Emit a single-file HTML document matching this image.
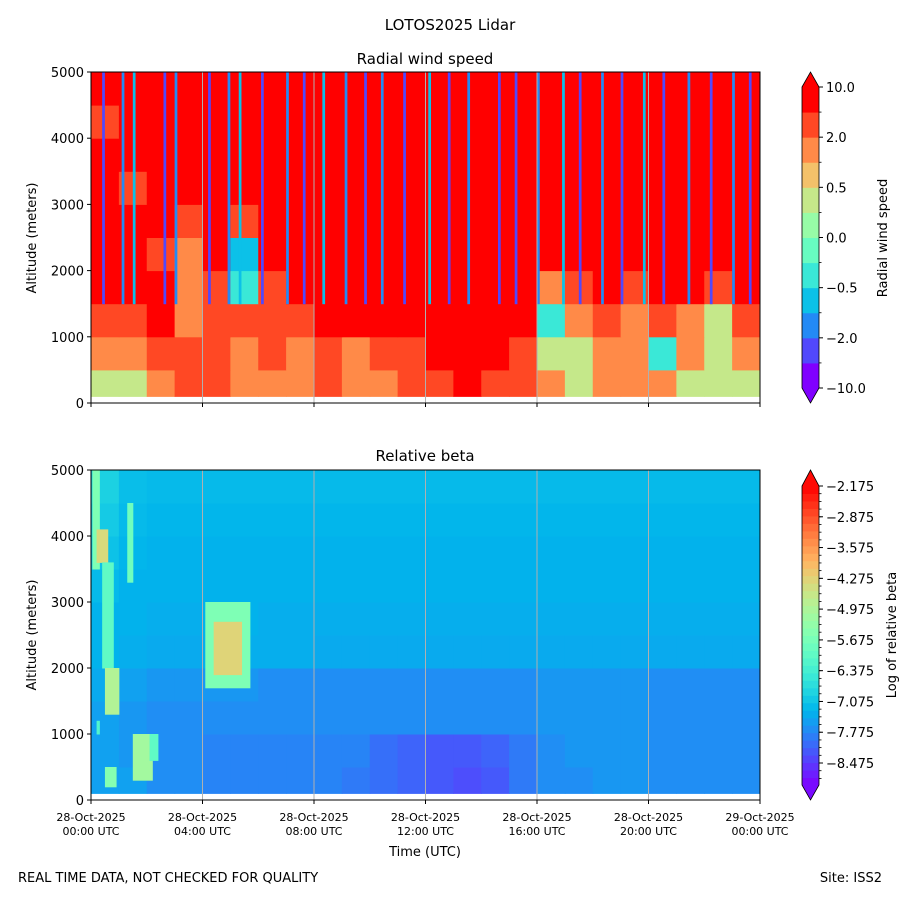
<!DOCTYPE html>
<html><head><meta charset="utf-8"><style>
body{margin:0;background:#fff;}
svg{display:block;font-family:"DejaVu Sans","Liberation Sans",sans-serif;}
</style></head><body>
<svg id="chart" width="900" height="900" viewBox="0 0 900 900">
<rect width="900" height="900" fill="#fff"/>
<text x="450" y="30" font-size="15" text-anchor="middle">LOTOS2025 Lidar</text>
<text x="425" y="64" font-size="15" text-anchor="middle">Radial wind speed</text>
<text x="425" y="461" font-size="15" text-anchor="middle">Relative beta</text>
<g id="topG"></g>
<g id="botG"></g>
<g id="axesG"></g>
<text x="36" y="238" font-size="13" text-anchor="middle" transform="rotate(-90 36 238)">Altitude (meters)</text>
<text x="36" y="635" font-size="13" text-anchor="middle" transform="rotate(-90 36 635)">Altitude (meters)</text>
<text x="425" y="856" font-size="13" text-anchor="middle">Time (UTC)</text>
<text x="18" y="882" font-size="13">REAL TIME DATA, NOT CHECKED FOR QUALITY</text>
<text x="882" y="882" font-size="13" text-anchor="end">Site: ISS2</text>
<text x="887" y="238" font-size="13" text-anchor="middle" transform="rotate(-90 887 238)">Radial wind speed</text>
<text x="896" y="635" font-size="13" text-anchor="middle" transform="rotate(-90 896 635)">Log of relative beta</text>
</svg>
<script>
const hours = [0,1,2,3,4,5,6,7,8,9,10,11,12,13,14,15,16,17,18,19,20,21,22,23];
const altRows = [0,500,1000,1500,2000,2500,3000,3500,4000,4500];
const windLevels = [-10,-5,-2,-1,-0.5,-0.25,0,0.25,0.5,1,2,5,10];
const windTickLabels = ["10.0","2.0","0.5","0.0","\u22120.5","\u22122.0","\u221210.0"];
const windTickValues = [10,2,0.5,0,-0.5,-2,-10];
const windGrid = [
 [0.3,0.3,1,3,3,1,1,1,3,1,1,3,3,5,3,3,1,0.3,1,1,1,0.3,0.3,0.3],
 [1,1,3,3,3,1,3,1,3,1,3,3,5,5,5,3,0.3,0.3,1,1,-0.3,1,0.3,1],
 [3,3,5,1,3,3,3,3,5,5,5,5,5,5,5,5,-0.3,1,3,1,3,1,0.3,3],
 [5,5,5,1,3,-0.3,3,5,5,5,5,5,5,5,5,5,1,3,5,3,5,5,3,5],
 [5,5,3,1,5,-0.7,5,5,5,5,5,5,5,5,5,5,5,5,5,5,5,5,5,5],
 [5,5,5,3,5,3,5,5,5,5,5,5,5,5,5,5,5,5,5,5,5,5,5,5],
 [5,3,5,5,5,5,5,5,5,5,5,5,5,5,5,5,5,5,5,5,5,5,5,5],
 [5,5,5,5,5,5,5,5,5,5,5,5,5,5,5,5,5,5,5,5,5,5,5,5],
 [3,5,5,5,5,5,5,5,5,5,5,5,5,5,5,5,5,5,5,5,5,5,5,5],
 [5,5,5,5,5,5,5,5,5,5,5,5,5,5,5,5,5,5,5,5,5,5,5,5]
];
const stripeHours = [0.4,1.1,1.5,2.6,3.0,4.2,4.9,5.3,6.1,7.0,7.6,8.3,9.1,9.8,10.4,11.2,12.1,12.8,13.5,14.6,15.2,16.0,16.9,17.5,18.3,19.0,19.8,20.5,21.4,22.2,23.0,23.6];
const stripeValues = [-5,-1.5,-0.7,-5,-1.5,-5,-1.5,-0.7,-5,-1.5,-5,-0.7,-1.5,-5,-1.5,-5,-0.7,-5,-1.5,-5,-5,-1.5,-0.7,-5,-1.5,-5,-0.7,-5,-1.5,-5,-1.5,-5];
const betaGrid = [
 [-7.5,-7.5,-7.7,-7.7,-7.8,-7.8,-7.8,-7.8,-7.8,-7.9,-8.0,-8.1,-8.2,-8.3,-8.2,-7.9,-7.7,-7.7,-7.6,-7.6,-7.7,-7.7,-7.7,-7.7],
 [-7.5,-7.6,-7.7,-7.7,-7.8,-7.8,-7.8,-7.8,-7.8,-7.8,-8.0,-8.1,-8.2,-8.2,-8.1,-7.9,-7.7,-7.6,-7.6,-7.6,-7.7,-7.7,-7.7,-7.7],
 [-7.5,-7.6,-7.7,-7.7,-7.7,-7.7,-7.7,-7.7,-7.7,-7.7,-7.7,-7.7,-7.7,-7.7,-7.7,-7.7,-7.6,-7.6,-7.6,-7.6,-7.7,-7.7,-7.7,-7.7],
 [-7.4,-7.5,-7.6,-7.6,-7.6,-7.6,-7.7,-7.7,-7.7,-7.7,-7.7,-7.7,-7.7,-7.7,-7.7,-7.7,-7.6,-7.6,-7.6,-7.6,-7.7,-7.7,-7.7,-7.7],
 [-7.3,-7.35,-7.4,-7.4,-7.35,-7.35,-7.35,-7.35,-7.4,-7.4,-7.4,-7.4,-7.4,-7.4,-7.4,-7.4,-7.4,-7.4,-7.4,-7.4,-7.4,-7.4,-7.4,-7.4],
 [-7.3,-7.3,-7.35,-7.35,-7.3,-7.3,-7.35,-7.35,-7.35,-7.35,-7.35,-7.35,-7.35,-7.35,-7.35,-7.35,-7.35,-7.35,-7.35,-7.35,-7.35,-7.35,-7.35,-7.35],
 [-7.2,-7.3,-7.3,-7.3,-7.3,-7.3,-7.3,-7.3,-7.3,-7.3,-7.3,-7.3,-7.3,-7.3,-7.3,-7.3,-7.3,-7.3,-7.3,-7.3,-7.3,-7.3,-7.3,-7.3],
 [-7.1,-7.25,-7.3,-7.3,-7.3,-7.3,-7.3,-7.3,-7.3,-7.3,-7.3,-7.3,-7.3,-7.3,-7.3,-7.3,-7.3,-7.3,-7.3,-7.3,-7.3,-7.3,-7.3,-7.3],
 [-7.0,-7.2,-7.25,-7.25,-7.25,-7.25,-7.25,-7.25,-7.25,-7.25,-7.25,-7.25,-7.25,-7.25,-7.25,-7.25,-7.25,-7.25,-7.25,-7.25,-7.25,-7.25,-7.25,-7.25],
 [-6.9,-7.15,-7.2,-7.2,-7.2,-7.2,-7.2,-7.2,-7.2,-7.2,-7.2,-7.2,-7.2,-7.2,-7.2,-7.2,-7.2,-7.2,-7.2,-7.2,-7.2,-7.2,-7.2,-7.2]
];
// features: [t0, t1, z0, z1, value]
const betaPlumes = [
 [0.05,0.3,3500,5000,-5.6],[0.2,0.6,3600,4100,-4.4],[0.4,0.8,2000,3600,-6.0],
 [0.5,1.0,1300,2000,-4.9],[1.3,1.5,3300,4500,-5.8],[1.5,2.2,300,1000,-5.1],
 [0.5,0.9,200,500,-5.5],[0.2,0.3,1000,1200,-6.2],[2.1,2.4,600,1000,-6.0],
 [4.1,5.7,1700,3000,-5.6],[4.4,5.4,1900,2700,-4.3]
];
const betaTickLabels = ["\u22122.175","\u22122.875","\u22123.575","\u22124.275","\u22124.975","\u22125.675","\u22126.375","\u22127.075","\u22127.775","\u22128.475"];
const betaTickValues = [-2.175,-2.875,-3.575,-4.275,-4.975,-5.675,-6.375,-7.075,-7.775,-8.475];
const altTicks = [0,1000,2000,3000,4000,5000];
const timeTicks = [0,4,8,12,16,20,24];
const timeTickLabels = [["28-Oct-2025","00:00 UTC"],["28-Oct-2025","04:00 UTC"],["28-Oct-2025","08:00 UTC"],["28-Oct-2025","12:00 UTC"],["28-Oct-2025","16:00 UTC"],["28-Oct-2025","20:00 UTC"],["29-Oct-2025","00:00 UTC"]];

const NS="http://www.w3.org/2000/svg";
const X0=91,X1=760;
const xs=h=>X0+(h/24)*(X1-X0);
const P={top:{y0:403,y1:72},bot:{y0:800,y1:470}};
const ys=(p,z)=>P[p].y0-(z/5000)*(P[p].y0-P[p].y1);
function rainbow(x){x=Math.max(0,Math.min(1,x));
 const r=Math.min(1,Math.abs(2*x-0.5)),g=Math.sin(Math.PI*x),b=Math.cos(Math.PI*x/2);
 return `rgb(${Math.round(r*255)},${Math.round(g*255)},${Math.round(b*255)})`;}
function windColor(v){let i=0;while(i<11&&v>=windLevels[i+1])i++;return rainbow(i/11);}
const BMIN=-8.975,BMAX=-2.175;
function betaColor(v){return rainbow((v-BMIN)/(BMAX-BMIN));}
function el(tag,attrs,parent){const e=document.createElementNS(NS,tag);for(const k in attrs)e.setAttribute(k,attrs[k]);parent.appendChild(e);return e;}
const topG=document.getElementById('topG'),botG=document.getElementById('botG'),axesG=document.getElementById('axesG');
function cellRect(g,p,t0,t1,z0,z1,fill){z0=Math.max(z0,100);
 return el('rect',{x:xs(t0),y:ys(p,z1),width:xs(t1)-xs(t0)+0.5,height:ys(p,z0)-ys(p,z1)+0.5,fill:fill},g);}
windGrid.forEach((row,ri)=>row.forEach((v,ci)=>{
 const r=cellRect(topG,'top',hours[ci],hours[ci]+1,altRows[ri],altRows[ri]+500,windColor(v));
 
 
}));
stripeHours.forEach((h,i)=>{
 const r=cellRect(topG,'top',h,h+0.08,1500,5000,windColor(stripeValues[i]));
 
 
});
betaGrid.forEach((row,ri)=>row.forEach((v,ci)=>{
 const r=cellRect(botG,'bot',hours[ci],hours[ci]+1,altRows[ri],altRows[ri]+500,betaColor(v));
 
 
}));
betaPlumes.forEach(f=>{
 const r=cellRect(botG,'bot',f[0],f[1],f[2],f[3],betaColor(f[4]));
 
 
});
['top','bot'].forEach(p=>{
 const g=p==='top'?topG:botG;
 timeTicks.slice(1,-1).forEach(h=>{const l=el('line',{x1:xs(h),x2:xs(h),y1:P[p].y1,y2:P[p].y0,stroke:'#b0b0b0','stroke-width':1},g);
  
  });
 const fr=el('rect',{x:X0,y:P[p].y1,width:X1-X0,height:P[p].y0-P[p].y1,fill:'none',stroke:'#000','stroke-width':1},axesG);
 
 
 altTicks.forEach(z=>{const y=ys(p,z);
  el('line',{x1:X0-4,x2:X0,y1:y,y2:y,stroke:'#000'},axesG);
  const t=el('text',{x:X0-7,y:y+5,'font-size':13,'text-anchor':'end'},axesG);t.textContent=z;
  
  });
 timeTicks.forEach((h,i)=>{const x=xs(h);
  el('line',{x1:x,x2:x,y1:P[p].y0,y2:P[p].y0+4,stroke:'#000'},axesG);
  if(p==='bot'){timeTickLabels[i].forEach((s,j)=>{const t=el('text',{x:x,y:821+j*14,'font-size':11,'text-anchor':'middle'},axesG);t.textContent=s;
   
   });}
 });
});
const CX=802,CW=17;
function colorbar(boxTop,boxBot,tipTop,tipBot,n,colorFn,tickVals,tickLabs,valToY,name,minor){
 const g=el('g',{},axesG);
 
 
 const h=(boxBot-boxTop)/n;
 for(let i=0;i<n;i++)el('rect',{x:CX,y:boxBot-(i+1)*h,width:CW,height:h+0.5,fill:colorFn(i,n)},g);
 el('polygon',{points:`${CX},${boxTop} ${CX+CW/2},${tipTop} ${CX+CW},${boxTop}`,fill:colorFn(n-1,n)},g);
 el('polygon',{points:`${CX},${boxBot} ${CX+CW/2},${tipBot} ${CX+CW},${boxBot}`,fill:colorFn(0,n)},g);
 el('polygon',{points:`${CX},${boxTop} ${CX+CW/2},${tipTop} ${CX+CW},${boxTop} ${CX+CW},${boxBot} ${CX+CW/2},${tipBot} ${CX},${boxBot}`,fill:'none',stroke:'#000','stroke-width':0.8},g);
 minor.forEach(y=>el('line',{x1:CX+CW,x2:CX+CW+2.5,y1:y,y2:y,stroke:'#000','stroke-width':0.8},g));
 tickVals.forEach((v,i)=>{const y=valToY(v);
  el('line',{x1:CX+CW,x2:CX+CW+4,y1:y,y2:y,stroke:'#000'},g);
  const t=el('text',{x:CX+CW+7,y:y+5,'font-size':13},g);t.textContent=tickLabs[i];
  
  });
}
const wMinor=[];for(let i=1;i<12;i+=2)wMinor.push(388-i*(301/12));
colorbar(87,388,72,403,12,(i,n)=>rainbow(i/(n-1)),windTickValues,windTickLabels,
 v=>{const i=windLevels.indexOf(v);return 388-i*(301/12);},'wind-colorbar',wMinor);
const bMinor=[];for(let k=0;k<40;k++){const v=-2.175-k*0.175;if(v>BMIN)bMinor.push(486+(-2.175-v)/(6.8)*299);}
colorbar(486,785,470,800,40,(i,n)=>rainbow((i+0.5)/n),betaTickValues,betaTickLabels,
 v=>486+(BMAX-v)/(BMAX-BMIN)*299,'beta-colorbar',bMinor);
</script>
</body></html>
